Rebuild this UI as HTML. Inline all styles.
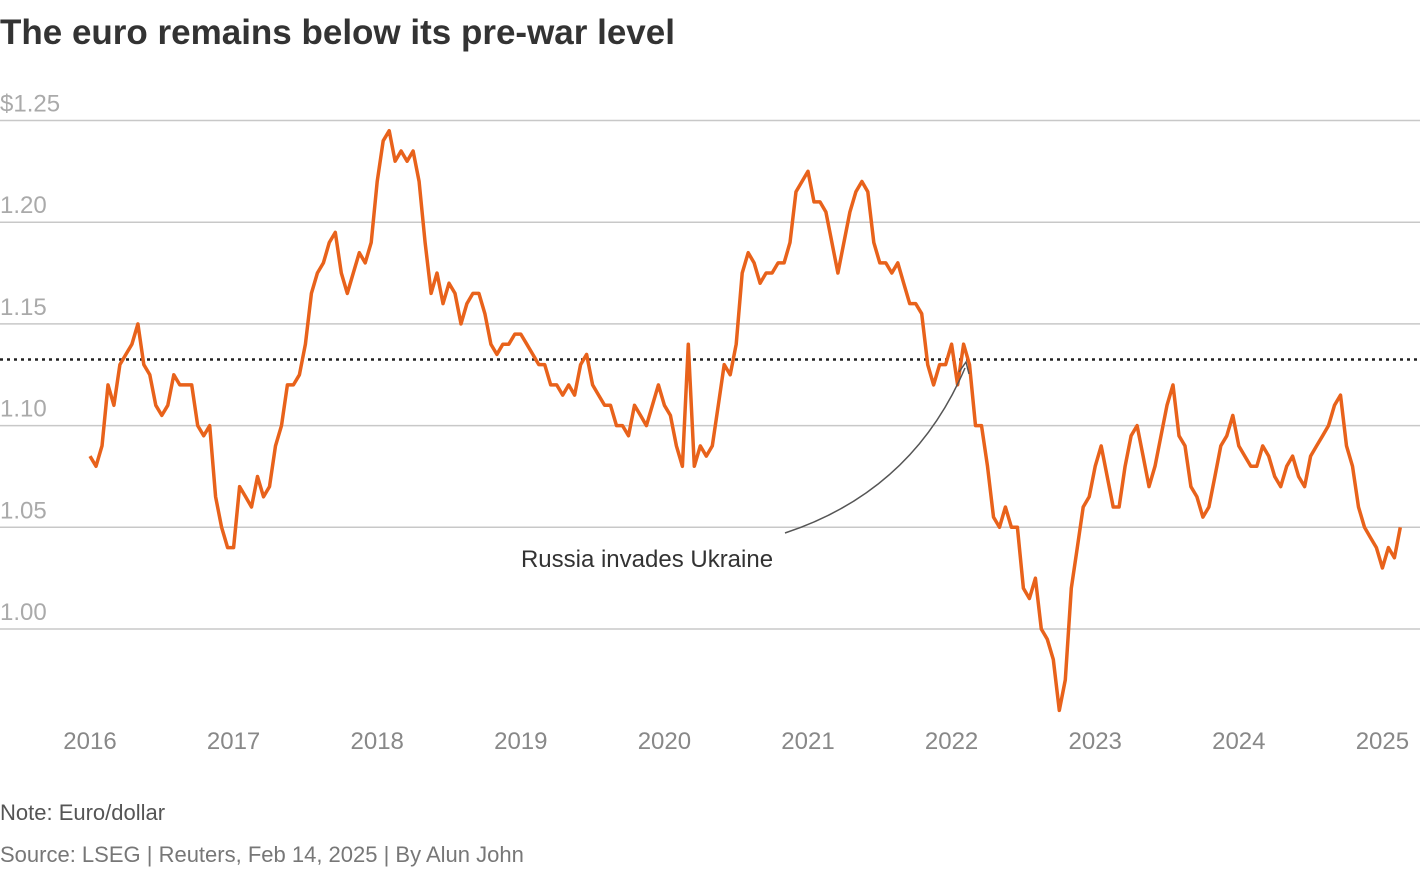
<!DOCTYPE html>
<html><head><meta charset="utf-8">
<style>
html,body{margin:0;padding:0;background:#fff;}
body{width:1420px;height:868px;overflow:hidden;font-family:"Liberation Sans",sans-serif;}
svg text{font-family:"Liberation Sans",sans-serif;}
</style></head>
<body>
<svg id="chart" width="1420" height="868" xmlns="http://www.w3.org/2000/svg">
<text x="0" y="44" font-size="35" font-weight="bold" fill="#333">The euro remains below its pre-war level</text>
<g id="grid"></g>
<g id="xaxis"></g>
<line id="prewar" stroke="#222" stroke-width="2.5" stroke-dasharray="3,4"/>
<path id="line" fill="none" stroke="#e8621b" stroke-width="3.5" stroke-linejoin="round"/>
<path d="M785,533 C870,505 930,450 965,368" fill="none" stroke="#555" stroke-width="1.5"/>
<path d="M959,372 L966,362 L969,374" fill="none" stroke="#555" stroke-width="1.5"/>
<text x="647" y="567" font-size="24" fill="#333" text-anchor="middle">Russia invades Ukraine</text>
<text x="0" y="820" font-size="22" fill="#555">Note: Euro/dollar</text>
<text x="0" y="862" font-size="22" fill="#777">Source: LSEG | Reuters, Feb 14, 2025 | By Alun John</text>
</svg>
<script>
const yTicks=[1.00,1.05,1.10,1.15,1.20,1.25];
const yTickLabels=["1.00","1.05","1.10","1.15","1.20","$1.25"];
const xYears=[2016,2017,2018,2019,2020,2021,2022,2023,2024,2025];
const prewarLevel=1.1325;
const startYear=2016.0;
const stepYears=1/24;
const values=[
1.085,1.080,1.090,1.120,1.110,1.130,1.135,1.140,1.150,1.130,1.125,1.110,1.105,1.110,1.125,1.120,1.120,1.120,1.100,1.095,1.100,1.065,1.050,1.040,
1.040,1.070,1.065,1.060,1.075,1.065,1.070,1.090,1.100,1.120,1.120,1.125,1.140,1.165,1.175,1.180,1.190,1.195,1.175,1.165,1.175,1.185,1.180,1.190,
1.220,1.240,1.245,1.230,1.235,1.230,1.235,1.220,1.190,1.165,1.175,1.160,1.170,1.165,1.150,1.160,1.165,1.165,1.155,1.140,1.135,1.140,1.140,1.145,
1.145,1.140,1.135,1.130,1.130,1.120,1.120,1.115,1.120,1.115,1.130,1.135,1.120,1.115,1.110,1.110,1.100,1.100,1.095,1.110,1.105,1.100,1.110,1.120,
1.110,1.105,1.090,1.080,1.140,1.080,1.090,1.085,1.090,1.110,1.130,1.125,1.140,1.175,1.185,1.180,1.170,1.175,1.175,1.180,1.180,1.190,1.215,1.220,
1.225,1.210,1.210,1.205,1.190,1.175,1.190,1.205,1.215,1.220,1.215,1.190,1.180,1.180,1.175,1.180,1.170,1.160,1.160,1.155,1.130,1.120,1.130,1.130,
1.140,1.120,1.140,1.130,1.100,1.100,1.080,1.055,1.050,1.060,1.050,1.050,1.020,1.015,1.025,1.000,0.995,0.985,0.960,0.975,1.020,1.040,1.060,1.065,
1.080,1.090,1.075,1.060,1.060,1.080,1.095,1.100,1.085,1.070,1.080,1.095,1.110,1.120,1.095,1.090,1.070,1.065,1.055,1.060,1.075,1.090,1.095,1.105,
1.090,1.085,1.080,1.080,1.090,1.085,1.075,1.070,1.080,1.085,1.075,1.070,1.085,1.090,1.095,1.100,1.110,1.115,1.090,1.080,1.060,1.050,1.045,1.040,
1.030,1.040,1.035,1.050];
const x0=90, pxPerYear=143.6, y0=629, pxPerUnit=2034;
const X=t=>x0+(t-2016)*pxPerYear;
const Y=v=>y0-(v-1.0)*pxPerUnit;
const NS="http://www.w3.org/2000/svg";
const grid=document.getElementById('grid');
yTicks.forEach((v,i)=>{
 const l=document.createElementNS(NS,'line');
 
 
 l.setAttribute('x1',0);l.setAttribute('x2',1420);
 l.setAttribute('y1',Y(v));l.setAttribute('y2',Y(v));
 l.setAttribute('stroke','#c8c8c8');l.setAttribute('stroke-width','1.5');
 grid.appendChild(l);
 const t=document.createElementNS(NS,'text');
 
 
 t.setAttribute('x',0);t.setAttribute('y',Y(v)-9);
 t.setAttribute('font-size','24');t.setAttribute('fill','#aaa');
 t.textContent=yTickLabels[i];
 grid.appendChild(t);
});
const xa=document.getElementById('xaxis');
xYears.forEach(yr=>{
 const t=document.createElementNS(NS,'text');
 
 
 t.setAttribute('x',X(yr));t.setAttribute('y',749);
 t.setAttribute('font-size','24');t.setAttribute('fill','#888');
 t.setAttribute('text-anchor','middle');
 t.textContent=String(yr);
 xa.appendChild(t);
});
const pw=document.getElementById('prewar');
pw.setAttribute('x1',0);pw.setAttribute('x2',1420);
pw.setAttribute('y1',Y(prewarLevel));pw.setAttribute('y2',Y(prewarLevel));
let d='';
values.forEach((v,i)=>{const t=startYear+i*stepYears;d+=(i?'L':'M')+X(t).toFixed(1)+','+Y(v).toFixed(1);});
document.getElementById('line').setAttribute('d',d);
</script>
</body></html>
